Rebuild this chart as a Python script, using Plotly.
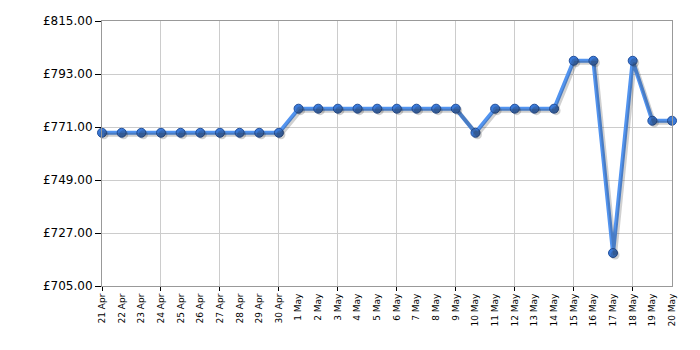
import plotly.graph_objects as go

dates = ["21 Apr", "22 Apr", "23 Apr", "24 Apr", "25 Apr", "26 Apr", "27 Apr", "28 Apr", "29 Apr", "30 Apr",
         "1 May", "2 May", "3 May", "4 May", "5 May", "6 May", "7 May", "8 May", "9 May", "10 May",
         "11 May", "12 May", "13 May", "14 May", "15 May", "16 May", "17 May", "18 May", "19 May", "20 May"]
prices = [768.6, 768.6, 768.6, 768.6, 768.6, 768.6, 768.6, 768.6, 768.6, 768.6,
          778.6, 778.6, 778.6, 778.6, 778.6, 778.6, 778.6, 778.6, 778.6, 768.6,
          778.6, 778.6, 778.6, 778.6, 798.5, 798.5, 718.7, 798.5, 773.6, 773.6]
y_ticks = [705, 727, 749, 771, 793, 815]

n = len(dates)
idx = list(range(n))
W, H = 700, 350
ml, mr, mt, mb = 102, 28, 21, 64
pw, ph = W - ml - mr, H - mt - mb
ymin, ymax = y_ticks[0], y_ticks[-1]
dx = 2 * (n - 1) / pw
dy = 2 * (ymax - ymin) / ph

fig = go.Figure()
# shadow
fig.add_trace(go.Scatter(x=idx, y=prices, mode="lines+markers", xaxis="x2", yaxis="y2",
                         line=dict(color="rgba(40,40,40,0.22)", width=4),
                         marker=dict(size=9, color="rgba(40,40,40,0.22)", line=dict(width=0)),
                         cliponaxis=False, hoverinfo="skip", showlegend=False))
# main
fig.add_trace(go.Scatter(x=idx, y=prices, mode="lines+markers",
                         line=dict(color="#5294f0", width=4),
                         marker=dict(size=9, color="#3a7ad9", line=dict(color="#23509c", width=1)),
                         cliponaxis=False, showlegend=False))
# labels carrier (invisible)
fig.add_trace(go.Scatter(x=idx, y=prices, xaxis="x3", mode="markers", marker=dict(opacity=0),
                         hoverinfo="skip", showlegend=False))

font = dict(family="DejaVu Sans, Verdana, sans-serif", color="#000")
fig.update_layout(
    width=W, height=H, margin=dict(l=ml, r=mr, t=mt, b=mb),
    paper_bgcolor="white", plot_bgcolor="white",
    xaxis=dict(range=[0, n - 1], tickvals=idx[::3], showticklabels=False,
               ticks="outside", ticklen=4, tickcolor="#000",
               showgrid=True, gridcolor="#cccccc", gridwidth=1,
               showline=True, linecolor="#999999", linewidth=1, mirror=True, zeroline=False),
    xaxis2=dict(range=[-dx, n - 1 - dx], overlaying="x", visible=False),
    xaxis3=dict(range=[0, n - 1], overlaying="x", side="bottom", anchor="y",
                tickvals=idx, ticktext=dates, tickangle=-90,
                tickfont=dict(size=9, **font), ticks="outside", ticklen=3,
                tickcolor="rgba(0,0,0,0)", showgrid=False, showline=False, zeroline=False),
    yaxis=dict(range=[ymin, ymax], tickvals=y_ticks, ticktext=[f"£{v:.2f}" for v in y_ticks],
               tickfont=dict(size=12, **font), ticks="outside", ticklen=6, tickcolor="#000",
               showgrid=True, gridcolor="#cccccc", gridwidth=1,
               showline=True, linecolor="#999999", linewidth=1, mirror=True, zeroline=False),
    yaxis2=dict(range=[ymin + dy, ymax + dy], overlaying="y", visible=False),
)
fig.write_html("out.html")
